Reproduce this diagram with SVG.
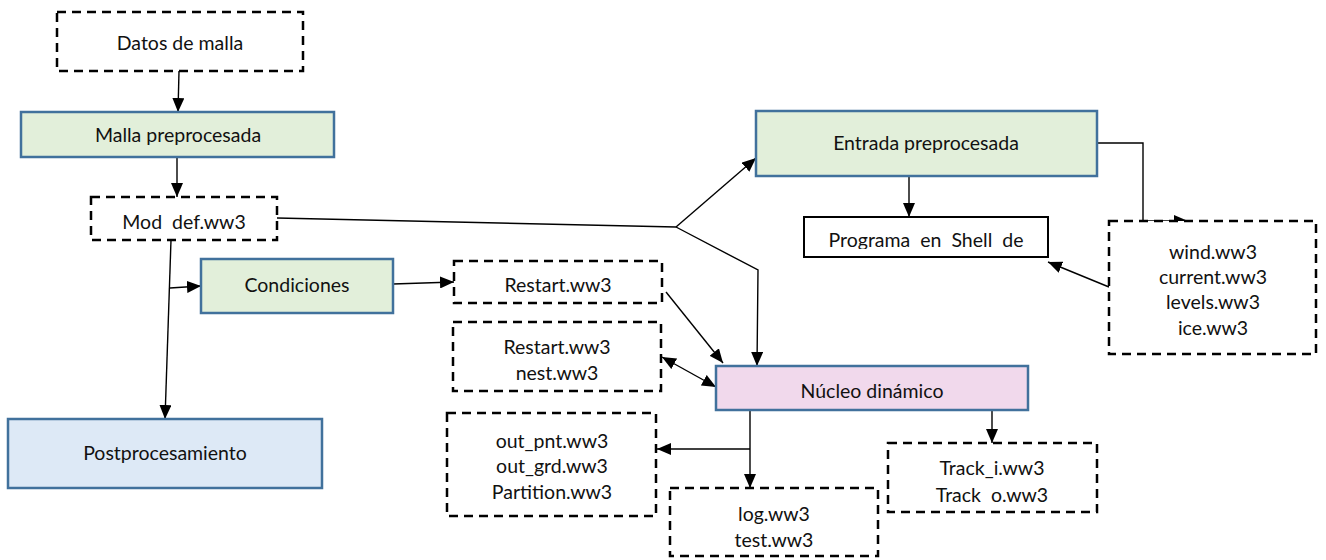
<svg xmlns="http://www.w3.org/2000/svg" width="1326" height="560" viewBox="0 0 1326 560">
  <style>
    .t { font-family: Lato, "Open Sans", "Liberation Sans", sans-serif; font-size: 19.5px; fill: #111; text-anchor: middle; white-space: pre; }
    .dash { fill: #fff; stroke: #000; stroke-width: 2.5; stroke-dasharray: 9 6; }
    .green { fill: #e2efda; stroke: #41719c; stroke-width: 2.5; }
    .pink { fill: #f1d9ec; stroke: #41719c; stroke-width: 2.5; }
    .blue { fill: #dde9f6; stroke: #41719c; stroke-width: 2.5; }
    .plain { fill: #fff; stroke: #000; stroke-width: 2; }
    .conn { fill: none; stroke: #000; stroke-width: 1.4; }
    .arr { marker-end: url(#ah); }
  </style>
  <defs>
    <marker id="ah" viewBox="0 0 14 12" refX="14" refY="6" markerWidth="14" markerHeight="12" markerUnits="userSpaceOnUse" orient="auto-start-reverse">
      <path d="M0,0 L14,6 L0,12 Z" fill="#000"/>
    </marker>
    <!-- the shell-program label is cut off at its lower edge -->
    <clipPath id="clipProg">
      <rect x="804" y="217" width="244" height="32"/>
    </clipPath>
  </defs>

  <rect width="1326" height="560" fill="#fff"/>

  <!-- connectors -->
  <g id="connectors">
    <path class="conn arr" d="M179,71 L178,112"/>
    <path class="conn arr" d="M177,157 L177,197"/>
    <path class="conn" d="M277,218 L676,227"/>
    <path class="conn arr" d="M676,227 L756,158"/>
    <path class="conn arr" d="M676,227 L758,270 L757,366"/>
    <path class="conn arr" d="M171,240 L165,419"/>
    <path class="conn arr" d="M170,288 L201,286"/>
    <path class="conn arr" d="M393,284 L454,282"/>
    <path class="conn arr" d="M909,157 L909,217"/>
    <path class="conn arr" d="M1097,143 L1143,143 L1143,221 L1188,221"/>
    <path class="conn arr" d="M1109,287 L1048,262"/>
    <path class="conn arr" d="M666,292 L723,363"/>
    <path class="conn arr" style="marker-start:url(#ah)" d="M662,357 L716,387"/>
    <path class="conn arr" d="M750,410 L750,488"/>
    <path class="conn arr" d="M750,449 L657,449"/>
    <path class="conn arr" d="M992,410 L992,443"/>
  </g>

  <g id="datos-malla">
    <rect class="dash" x="57" y="12" width="246" height="59"/>
    <text class="t" x="180" y="50">Datos de malla</text>
  </g>

  <g id="malla-preprocesada">
    <rect class="green" x="21" y="112" width="313" height="45"/>
    <text class="t" x="178" y="142">Malla preprocesada</text>
  </g>

  <g id="mod-def">
    <rect class="dash" x="91" y="197" width="186" height="43"/>
    <text class="t" x="184" y="229">Mod  def.ww3</text>
  </g>

  <g id="condiciones">
    <rect class="green" x="201" y="259" width="192" height="54"/>
    <text class="t" x="297" y="292">Condiciones</text>
  </g>

  <g id="postprocesamiento">
    <rect class="blue" x="8" y="419" width="314" height="69"/>
    <text class="t" x="165" y="460">Postprocesamiento</text>
  </g>

  <g id="entrada-preprocesada">
    <rect class="green" x="756" y="111" width="341" height="65"/>
    <text class="t" x="926" y="150">Entrada preprocesada</text>
  </g>

  <g id="programa-shell">
    <rect class="plain" x="804" y="217" width="244" height="40"/>
    <text class="t" x="926" y="247" clip-path="url(#clipProg)">Programa  en  Shell  de</text>
  </g>

  <g id="forzantes">
    <rect class="dash" x="1109" y="221" width="207" height="133"/>
    <text class="t" x="1213" y="259">wind.ww3</text>
    <text class="t" x="1213" y="284">current.ww3</text>
    <text class="t" x="1213" y="309">levels.ww3</text>
    <text class="t" x="1213" y="335">ice.ww3</text>
  </g>

  <g id="restart">
    <rect class="dash" x="454" y="261" width="208" height="42"/>
    <text class="t" x="558" y="292">Restart.ww3</text>
  </g>

  <g id="restart-nest">
    <rect class="dash" x="453" y="322" width="208" height="69"/>
    <text class="t" x="557" y="354">Restart.ww3</text>
    <text class="t" x="557" y="380">nest.ww3</text>
  </g>

  <g id="nucleo-dinamico">
    <rect class="pink" x="716" y="366" width="312" height="44"/>
    <text class="t" x="872" y="398">Núcleo dinámico</text>
  </g>

  <g id="salidas">
    <rect class="dash" x="447" y="413" width="209" height="103"/>
    <text class="t" x="552" y="448">out_pnt.ww3</text>
    <text class="t" x="552" y="473">out_grd.ww3</text>
    <text class="t" x="552" y="499">Partition.ww3</text>
  </g>

  <g id="log-test">
    <rect class="dash" x="670" y="488" width="208" height="68"/>
    <text class="t" x="774" y="521">log.ww3</text>
    <text class="t" x="774" y="547">test.ww3</text>
  </g>

  <g id="track">
    <rect class="dash" x="888" y="443" width="209" height="69"/>
    <text class="t" x="992" y="475">Track_i.ww3</text>
    <text class="t" x="992" y="502">Track  o.ww3</text>
  </g>
</svg>
